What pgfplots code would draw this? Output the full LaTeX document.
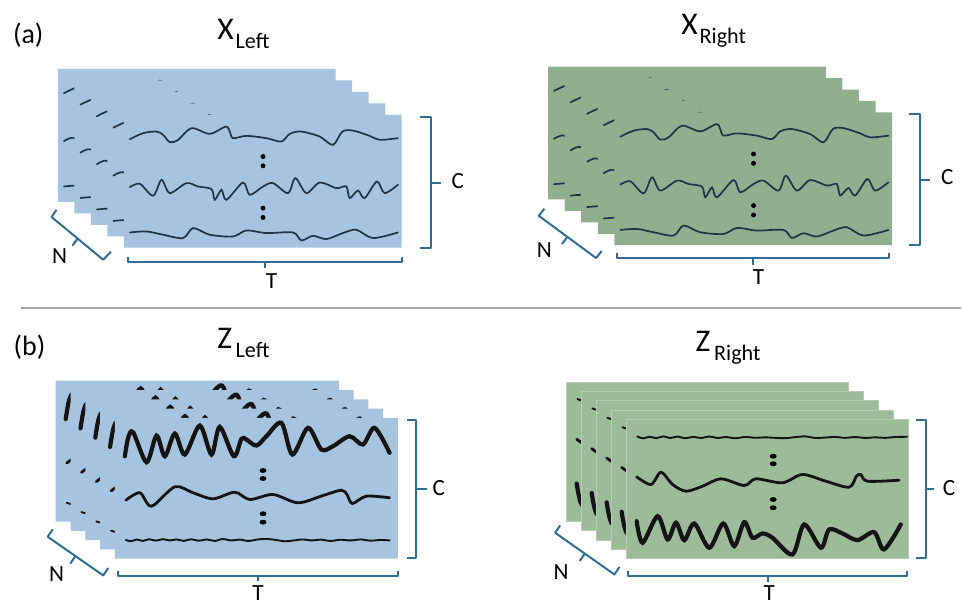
\documentclass[border=0pt]{standalone}
\usepackage{pgfplots}
\pgfplotsset{compat=1.18}
\usepackage{pgfplotstable}
\usepackage{fontspec}
\setmainfont{Carlito}
\definecolor{cblue}{HTML}{A6C4DF}
\definecolor{cgreenX}{HTML}{8FAF8F}
\definecolor{cgreenZ}{HTML}{9BBB99}
\definecolor{ccurve}{HTML}{1F3447}
\definecolor{cbrace}{HTML}{2E6D96}
\definecolor{csep}{HTML}{A6A6A6}

% ---------- card outlines (front card, pixel coords) ----------
\pgfplotstableread{
x y
124 115
402 115
402 248
124 248
124 115
}\cardX
\pgfplotstableread{
x y
115 418.3
398.3 418.3
398.3 559.3
115 559.3
115 418.3
}\cardZL
\pgfplotstableread{
x y
626.7 420
909 420
909 559.3
626.7 559.3
626.7 420
}\cardZR

% ---------- X curves (front card of X_Left) ----------
\pgfplotstableread{
x y
130 139.3
143.3 133.3
156.7 131.7
163.3 135
170 142.3
178.3 140
191.7 128.3
210 134
226 126.7
230 131.7
233.3 138.3
246.7 136
266.7 138.3
281.7 141.7
290 134
301.7 131.7
320 136.7
333.3 145
342.7 131.7
353.3 130.7
370 136
380 140
398.3 138.3
}\XA
\pgfplotstableread{
x y
130 187.3
140 184
153.3 196
161.7 180
170 193.3
186.7 183.3
198.3 186.7
211.7 189.3
215 200
221.7 190
226.7 200
243.3 182.7
250 195
263.3 186.7
273.3 183.3
288.3 193.3
295.7 178.3
306.7 193.3
320 182.7
336.7 188.3
346.7 186.7
350 198.3
358.3 190.7
365 198.3
377.3 181.7
385 193.3
398.3 185
}\XB
\pgfplotstableread{
x y
130 232.7
146.7 231.7
163.3 235
183.3 238.3
193.3 228.3
210 235
233.3 236.7
246.7 230.7
266.7 233.3
293.3 232.7
301.7 240.7
313.3 236
326.7 239.3
343.3 233.3
356.7 230
373.3 238.3
398.3 232.7
}\XC

% ---------- Z_Left curves ----------
\pgfplotstableread{
x y
125 456.7
128.3 438.3
133.3 432.7
146.7 462.7
156.7 436
165 456.7
175 434
185 455
200 426
211.7 455
220 427.3
234 456.7
241.7 439.3
246.7 440
256.7 446
266.7 436.7
281.7 423.3
292.7 455
308.3 428.3
321.7 450
333.3 446.7
350 436.7
363.3 445
375 428.3
390 453.3
}\ZLA
\pgfplotstableread{
x y
126 500.7
140 493.3
151.7 506.7
175 487.3
193.3 493.3
213.3 499.3
235 492.7
250 500
273.3 495
298.3 503.3
323.3 496
341.7 490.7
347.3 495
352.7 504
366.7 496.7
390 498.3
}\ZLB
\pgfplotstableread{
x y
126 540.5
131 541.8
137 540
143 541.5
149 539.8
156 541.2
163 539.7
170 541
177 540
184 541.5
191 539.8
199 541.3
207 540
215 541.5
223 539.5
231 541
240 540.2
249 541.5
258 540
267 539.5
276 540.5
285 541.8
294 541
303 540
312 541
321 540.2
331 541.5
341 540.3
351 541
361 540
371 541.2
381 540.5
390 541
}\ZLC

% ---------- Z_Right curves ----------
\pgfplotstableread{
x y
638 437
644 438.8
650 437.2
657 438.6
664 436.8
671 438.5
678 437
686 438.7
694 437.3
702 438.5
710 436.9
718 438.4
727 437.5
736 438.7
746 437.4
756 438.2
766 437.8
776 438.3
786 438.6
796 437.6
806 436.8
816 438.4
826 438
836 437.4
846 438.3
856 437.5
866 438.4
876 437.8
886 438.3
896 437.5
908 437.2
}\ZRA
\pgfplotstableread{
x y
637.3 477.3
651.7 485
661.7 472.7
673.3 485
686.7 491.7
703.3 486.7
721.7 479.3
745 486
756.7 479.3
783.3 483.3
803.3 475
826.7 481.7
850 487.7
857.3 476.7
861.7 475
868.3 481.7
900 480.7
}\ZRB
\pgfplotstableread{
x y
637.3 521.7
643.3 543.3
658.3 516.7
668.3 540
676.7 523.3
685 540.7
695 524
710 548.3
724 524
735 546.7
745 522.7
753.3 538.3
763.3 534
773.3 538.3
793.3 555
805 525
821.7 548.3
830 530
843.3 534
858.3 540.7
875 532.7
885 550
901.7 525
}\ZRC

\pgfplotsset{
  xcurve/.style={color=ccurve, line width=0.85pt, smooth, tension=0.5, line cap=round},
  zthick/.style={color=black!92, line width=2.1pt, smooth, tension=0.5, line cap=round},
  zmid/.style={color=black!92, line width=1.4pt, smooth, tension=0.5, line cap=round},
  zthin/.style={color=black!92, line width=0.95pt, smooth, tension=0.5, line cap=round},
  brace/.style={color=cbrace, line width=1pt, line join=round},
}
\newcommand{\Xlayer}[3]{%
  \addplot[fill=#3, draw=none] table[x expr=\thisrow{x}+(#1), y expr=\thisrow{y}+(#2)] {\cardX};
  \addplot[xcurve] table[x expr=\thisrow{x}+(#1), y expr=\thisrow{y}+(#2)] {\XA};
  \addplot[xcurve] table[x expr=\thisrow{x}+(#1), y expr=\thisrow{y}+(#2)] {\XB};
  \addplot[xcurve] table[x expr=\thisrow{x}+(#1), y expr=\thisrow{y}+(#2)] {\XC};
}
\newcommand{\ZLlayer}[2]{%
  \addplot[fill=cblue, draw=none] table[x expr=\thisrow{x}+(#1), y expr=\thisrow{y}+(#2)] {\cardZL};
  \addplot[zthick] table[x expr=\thisrow{x}+(#1), y expr=\thisrow{y}+(#2)] {\ZLA};
  \addplot[zmid] table[x expr=\thisrow{x}+(#1), y expr=\thisrow{y}+(#2)] {\ZLB};
  \addplot[zthin] table[x expr=\thisrow{x}+(#1), y expr=\thisrow{y}+(#2)] {\ZLC};
}
\newcommand{\ZRlayer}[2]{%
  \addplot[fill=cgreenZ, draw=white!25!cgreenZ, line width=0.3pt] table[x expr=\thisrow{x}+(#1), y expr=\thisrow{y}+(#2)] {\cardZR};
  \addplot[zthin] table[x expr=\thisrow{x}+(#1), y expr=\thisrow{y}+(#2)] {\ZRA};
  \addplot[zmid] table[x expr=\thisrow{x}+(#1), y expr=\thisrow{y}+(#2)] {\ZRB};
  \addplot[zthick] table[x expr=\thisrow{x}+(#1), y expr=\thisrow{y}+(#2)] {\ZRC};
}
\newcommand{\ttl}[6]{%
  \node[anchor=base west, inner sep=0pt] at (axis cs:#1,#2) {\fontsize{15.8}{16}\selectfont #3};
  \node[anchor=base west, inner sep=0pt] at (axis cs:#4,#5) {\fontsize{11.1}{12}\selectfont #6};
}
\newcommand{\lbl}[3]{\node[inner sep=0pt] at (axis cs:#1,#2) {\fontsize{11.6}{12}\selectfont #3};}

\begin{document}
\begin{tikzpicture}
\begin{axis}[
  scale only axis, width=481pt, height=302.5pt,
  xmin=0, xmax=962, ymin=0, ymax=605, y dir=reverse,
  hide axis, clip=false]
\path (axis cs:0,0) rectangle (axis cs:962,605);

% ===== X_Left =====
\Xlayer{-66}{-46}{cblue}
\Xlayer{-49.5}{-34.5}{cblue}
\Xlayer{-33}{-23}{cblue}
\Xlayer{-16.5}{-11.5}{cblue}
\Xlayer{0}{0}{cblue}
\addplot[only marks, mark=*, mark size=1pt, color=black] coordinates {(263.3,156.7) (263.3,166) (263.3,208.3) (263.3,217.7)};

% ===== X_Right =====
\Xlayer{424.6}{-48.3}{cgreenX}
\Xlayer{441.2}{-36.85}{cgreenX}
\Xlayer{457.8}{-25.4}{cgreenX}
\Xlayer{474.4}{-13.95}{cgreenX}
\Xlayer{491}{-2.5}{cgreenX}
\addplot[only marks, mark=*, mark size=1pt, color=black] coordinates {(754.3,154.2) (754.3,163.5) (754.3,205.8) (754.3,215.2)};

% ===== Z_Left =====
\ZLlayer{-59.2}{-37.2}
\ZLlayer{-44.4}{-27.9}
\ZLlayer{-29.6}{-18.6}
\ZLlayer{-14.8}{-9.3}
\ZLlayer{0}{0}
\addplot[only marks, mark=*, mark size=1pt, mark options={xscale=1.5}, color=black] coordinates {(263.3,471) (263.3,479) (263.3,514.3) (263.3,522.7)};

% ===== Z_Right =====
\ZRlayer{-60}{-37.6}
\ZRlayer{-45}{-28.2}
\ZRlayer{-30}{-18.8}
\ZRlayer{-15}{-9.4}
\ZRlayer{0}{0}
\addplot[only marks, mark=*, mark size=1pt, mark options={xscale=1.5}, color=black] coordinates {(774,456.7) (774,464.3) (774,500) (774,508.3)};

% ===== separator =====
\addplot[color=csep, line width=1pt] coordinates {(20.7,308.5) (962,308.5)};

% ===== braces: X_Left =====
\addplot[brace] coordinates {(420.7,116.7) (431.7,116.7) (431.7,248.3) (420.7,248.3)};
\addplot[brace] coordinates {(431.7,182.7) (441.7,182.7)};
\addplot[brace] coordinates {(128,257) (128,262) (402,262) (402,257)};
\addplot[brace] coordinates {(265,262) (265,268)};
\addplot[brace] coordinates {(56.5,210) (51.7,217.3) (103.3,260) (111,252)};
\addplot[brace] coordinates {(77.5,239) (72.5,246)};
% ===== braces: X_Right =====
\addplot[brace] coordinates {(910,114.3) (920.7,114.3) (920.7,245) (910,245)};
\addplot[brace] coordinates {(920.7,180) (930.7,180)};
\addplot[brace] coordinates {(617.7,253.3) (617.7,258.3) (890,258.3) (890,253.3)};
\addplot[brace] coordinates {(754,258.3) (754,265)};
\addplot[brace] coordinates {(544.9,209) (539.3,216) (596.7,258.3) (602.3,251.3)};
\addplot[brace] coordinates {(568,237.2) (562.5,244.2)};
% ===== braces: Z_Left =====
\addplot[brace] coordinates {(407.3,420) (416.7,420) (416.7,558.3) (407.3,558.3)};
\addplot[brace] coordinates {(416.7,490) (427.3,490)};
\addplot[brace] coordinates {(118.3,571.7) (118.3,576.7) (398.3,576.7) (398.3,571.7)};
\addplot[brace] coordinates {(258.3,576.7) (258.3,582)};
\addplot[brace] coordinates {(52.8,529.9) (47.7,537.3) (103.3,576) (108.4,568.6)};
\addplot[brace] coordinates {(75.5,556.7) (70.4,564.1)};
% ===== braces: Z_Right =====
\addplot[brace] coordinates {(917.3,420.7) (926.7,420.7) (926.7,558.3) (917.3,558.3)};
\addplot[brace] coordinates {(926.7,490) (935,490)};
\addplot[brace] coordinates {(629,571.7) (629,576.7) (908.3,576.7) (908.3,571.7)};
\addplot[brace] coordinates {(768.7,576.7) (768.7,582.5)};
\addplot[brace] coordinates {(560.8,526) (555.7,533.3) (615,575) (620.1,567.6)};
\addplot[brace] coordinates {(585.4,554.2) (580.3,561.6)};

% ===== texts =====
\node[anchor=base west, inner sep=0pt] at (axis cs:12.7,43.3) {\fontsize{14}{15}\selectfont (a)};
\node[anchor=base west, inner sep=0pt] at (axis cs:13.3,356) {\fontsize{14}{15}\selectfont (b)};
\ttl{217.3}{39.3}{X}{235.5}{48.3}{Left}
\ttl{681.7}{35}{X}{700}{44}{Right}
\ttl{217.3}{349.3}{Z}{235.5}{358.3}{Left}
\ttl{696}{352}{Z}{714.5}{361}{Right}
\lbl{458.3}{181}{C}
\lbl{948.3}{177}{C}
\lbl{439.3}{488.3}{C}
\lbl{950}{488.3}{C}
\lbl{271.7}{281.7}{T}
\lbl{759.3}{277.5}{T}
\lbl{258.3}{593.5}{T}
\lbl{770}{593.5}{T}
\lbl{59.7}{256.3}{N}
\lbl{545}{250}{N}
\lbl{56.7}{575}{N}
\lbl{561.7}{572.7}{N}
\end{axis}
\end{tikzpicture}
\end{document}
